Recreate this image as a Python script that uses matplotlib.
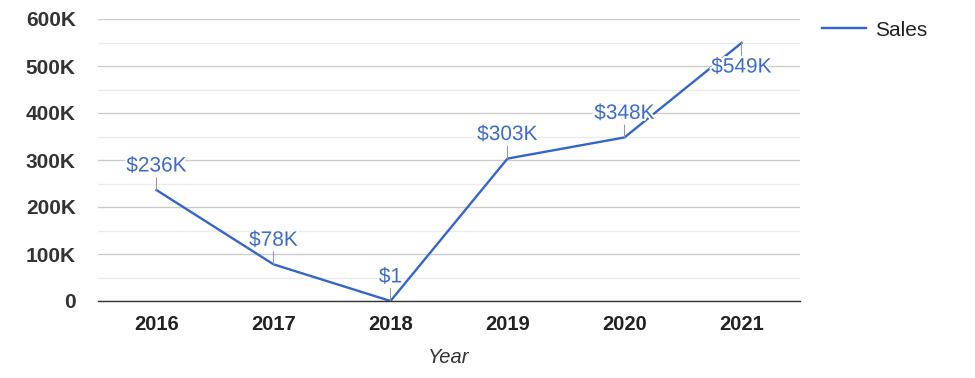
import matplotlib
matplotlib.use("Agg")
import matplotlib.pyplot as plt
from matplotlib import font_manager
import matplotlib.patheffects as pe
from matplotlib.ticker import FuncFormatter, MultipleLocator

years = ["2016", "2017", "2018", "2019", "2020", "2021"]
sales = [236000, 78000, 1, 303000, 348000, 549000]
labels = ["$236K", "$78K", "$1", "$303K", "$348K", "$549K"]
y_ticks = [0, 100000, 200000, 300000, 400000, 500000, 600000]

names = {f.name for f in font_manager.fontManager.ttflist}
base = "Liberation Sans" if "Liberation Sans" in names else "DejaVu Sans"
plt.rcParams["font.family"] = [base, "DejaVu Sans"]

blue = "#3366CC"
fig = plt.figure(figsize=(9.75, 3.78), dpi=100)
ax = fig.add_axes([98/975, 1-301/378, 702/975, 282/378])

x = list(range(len(years)))
ax.plot(x, sales, color=blue, lw=1.7, label="Sales", zorder=3, solid_joinstyle="miter")

ax.set_xlim(-0.5, len(years) - 0.5)
ax.set_ylim(0, 600000)
ax.yaxis.set_minor_locator(MultipleLocator(50000))
ax.set_yticks(y_ticks)
ax.yaxis.set_major_formatter(FuncFormatter(lambda v, p: "0" if v == 0 else f"{int(v/1000)}K"))
ax.grid(True, which="major", axis="y", color="#cccccc", lw=1)
ax.grid(True, which="minor", axis="y", color="#ebebeb", lw=1)
ax.set_axisbelow(True)
for s in ["top", "right", "left"]:
    ax.spines[s].set_visible(False)
ax.spines["bottom"].set_color("#333333")
ax.spines["bottom"].set_linewidth(1)
ax.spines["bottom"].set_zorder(4)
ax.tick_params(axis="both", which="both", length=0)
ax.tick_params(axis="y", pad=16, labelsize=15, labelcolor="#333333")
ax.tick_params(axis="x", pad=10, labelcolor="#222222")
for t in ax.get_yticklabels():
    t.set_fontweight("bold")
ax.set_xticks(x)
ax.set_xticklabels(years, fontweight="bold", fontsize=14.5)

ax.set_xlabel("Year", fontstyle="italic", fontsize=14.5, color="#333333", labelpad=10)

for i, (v, lab) in enumerate(zip(sales, labels)):
    sign = -1 if i == len(sales) - 1 else 1
    ax.annotate("", xy=(i, v), xytext=(0, 9 * sign), textcoords="offset points",
                arrowprops=dict(arrowstyle="-", color="#999999", lw=0.8,
                                shrinkA=0, shrinkB=0), zorder=4)
    ax.annotate(lab, xy=(i, v), xytext=(0, 10.5 * sign), textcoords="offset points",
                ha="center", va="bottom" if sign > 0 else "top",
                fontsize=15, color="#3c6bcc", zorder=5,
                path_effects=[pe.withStroke(linewidth=3, foreground="white")])

fig.legend(loc="center left", bbox_to_anchor=(822/975, 1-30/378), frameon=False,
           fontsize=15, handlelength=2.1, handletextpad=0.45, borderpad=0,
           borderaxespad=0, labelcolor="#222222")

fig.savefig("out.png", dpi=100)
